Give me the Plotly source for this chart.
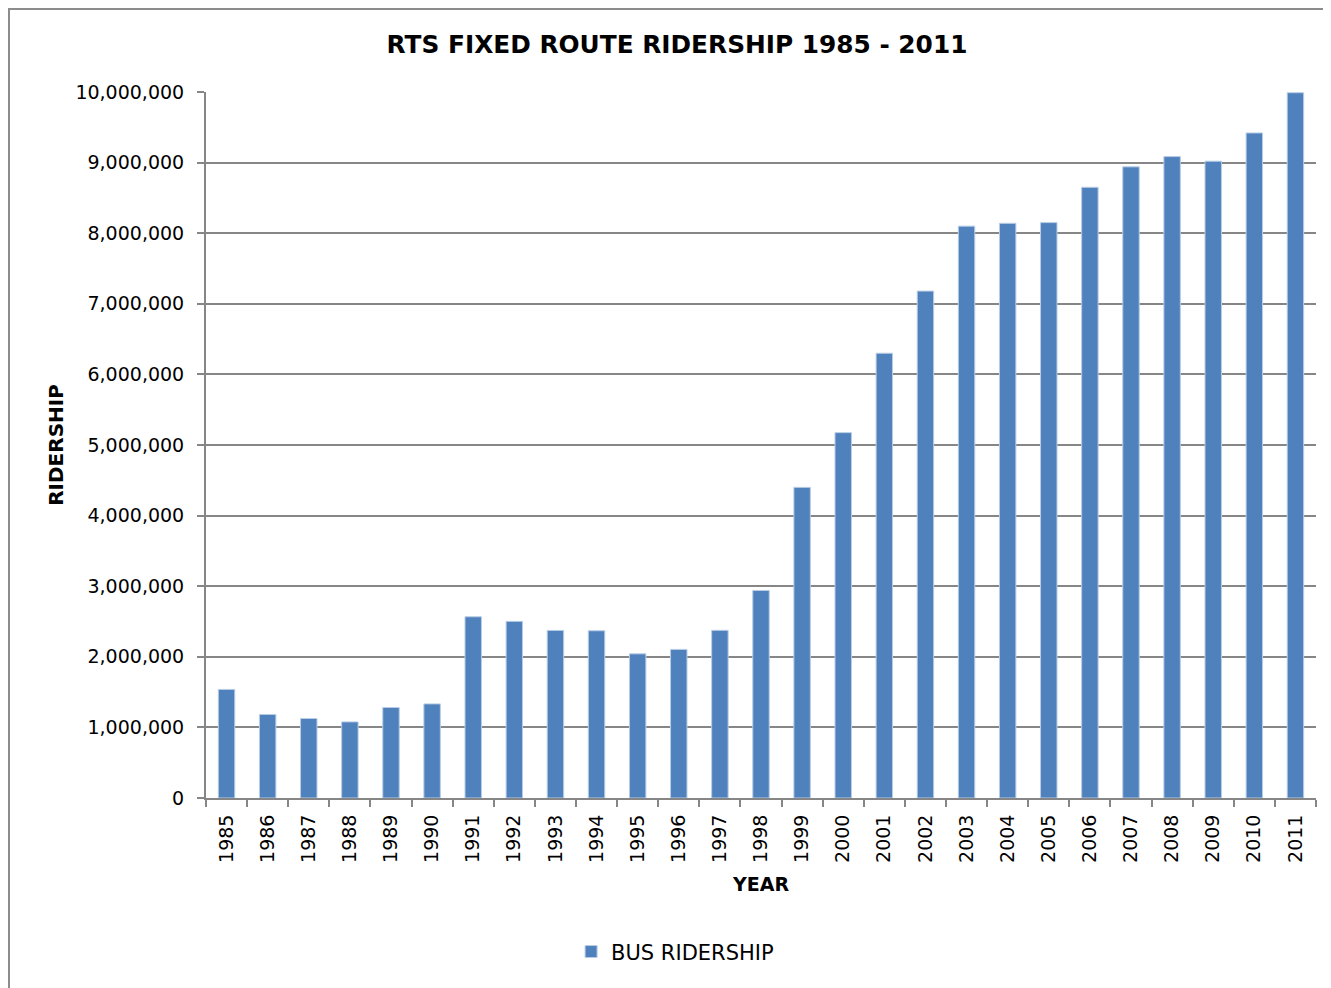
import plotly.graph_objects as go

years = [str(y) for y in range(1985, 2012)]
ridership = [
    1538000, 1183000, 1126000, 1078000, 1282000, 1333000, 2567000, 2502000,
    2374000, 2369000, 2042000, 2105000, 2375000, 2940000, 4400000, 5175000,
    6300000, 7180000, 8100000, 8140000, 8150000, 8650000, 8940000, 9085000,
    9020000, 9420000, 9990000,
]
y_ticks = list(range(0, 10_000_001, 1_000_000))

FONT = "DejaVu Sans"
GRID = "#868686"

W, H = 1331, 988
L, R, T, B = 198, 23, 84, 198
PW, PH = W - L - R, H - T - B

fig = go.Figure(go.Bar(
    x=years, y=ridership, name="BUS RIDERSHIP",
    marker=dict(color="#4F81BD", line=dict(color="#B9CDE5", width=1)),
))

fig.update_layout(
    width=W, height=H,
    paper_bgcolor="white", plot_bgcolor="white",
    margin=dict(l=L, r=R, t=T, b=B),
    bargap=0.6,
    font=dict(family=FONT, color="black", size=19),
    title=dict(
        text="<b>RTS FIXED ROUTE RIDERSHIP 1985 - 2011</b>",
        x=669 / W, xanchor="center", y=1 - 36 / H, yanchor="middle",
        font=dict(family=FONT, size=24.8, color="black"),
    ),
    showlegend=True,
    legend=dict(
        orientation="h", x=0.4226, xanchor="center", y=-0.218, yanchor="middle",
        font=dict(family=FONT, size=21),
    ),
    # outer chart border (left and top edges visible, as in the source)
    shapes=[dict(
        type="rect", xref="paper", yref="paper",
        x0=(1 - L) / PW, x1=(W + 20 - L) / PW,
        y0=-(B + 20) / PH, y1=1 + (T - 1) / PH,
        line=dict(color="#8c8c8c", width=2), fillcolor="rgba(0,0,0,0)",
        layer="below",
    )],
)

fig.update_xaxes(
    type="category", tickangle=-90,
    showline=True, linecolor=GRID, linewidth=2,
    ticks="outside", tickson="boundaries", ticklen=7, tickcolor=GRID, tickwidth=2,
    ticklabelstandoff=7,
    tickfont=dict(family=FONT, size=19),
    title=dict(text="<b>YEAR</b>", standoff=16, font=dict(family=FONT, size=19)),
)
fig.update_yaxes(
    range=[0, 10_000_000], tickvals=y_ticks, tickformat=",d",
    showline=True, linecolor=GRID, linewidth=2,
    showgrid=True, gridcolor=GRID, gridwidth=2, zeroline=False,
    ticks="outside", ticklen=7, tickcolor=GRID, tickwidth=2,
    ticklabelstandoff=9,
    tickfont=dict(family=FONT, size=19),
    title=dict(text="<b>RIDERSHIP</b>", standoff=6, font=dict(family=FONT, size=20)),
)

fig.write_html("out.html")
